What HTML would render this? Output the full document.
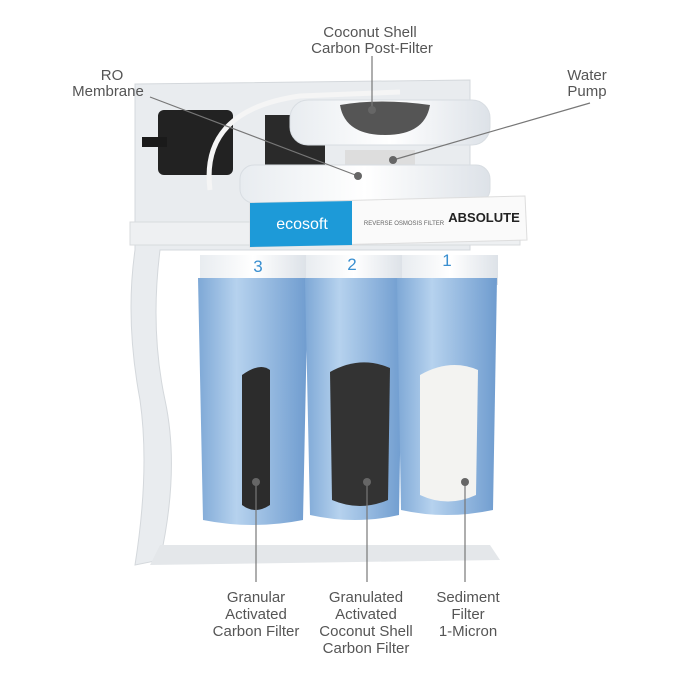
<!DOCTYPE html><html><head><style>body{margin:0;background:#fff}svg{display:block}text{font-family:"Liberation Sans",sans-serif;fill:#555;font-size:15px;text-anchor:middle}</style></head><body>
<svg width="700" height="700" viewBox="0 0 700 700">
<defs>
<linearGradient id="blue" x1="0" x2="1"><stop offset="0" stop-color="#7ea8d6"/><stop offset=".35" stop-color="#b6d2ee"/><stop offset="1" stop-color="#6f9ccf"/></linearGradient>
<linearGradient id="wh" x1="0" x2="1"><stop offset="0" stop-color="#e8ecf0"/><stop offset=".5" stop-color="#fff"/><stop offset="1" stop-color="#dde2e8"/></linearGradient>
</defs>
<!-- back plate -->
<path d="M135 84 L470 80 L470 250 L160 250 Q150 330 165 400 Q180 470 160 560 L135 565 Q150 470 140 400 Q125 320 135 250 Z" fill="#e9ecef" stroke="#d4d8dc"/>
<path d="M130 222 L520 222 L520 245 L130 245 Z" fill="#eef0f2" stroke="#d8dbde"/>
<path d="M160 545 L490 545 L500 560 L150 565 Z" fill="#e4e7ea"/>
<!-- pump black -->
<rect x="158" y="110" width="75" height="65" rx="6" fill="#222"/>
<rect x="142" y="137" width="25" height="10" fill="#1a1a1a"/>
<rect x="265" y="115" width="60" height="55" fill="#2a2a2a"/>
<!-- membrane housing -->
<rect x="290" y="100" width="200" height="45" rx="18" fill="url(#wh)" stroke="#d8dde2"/>
<path d="M340 105 Q380 98 430 105 Q425 135 385 135 Q345 135 340 105Z" fill="#555"/>
<rect x="345" y="150" width="70" height="40" fill="#ddd"/>
<path d="M348 165 L420 165 Q415 190 385 190 Q352 190 348 165Z" fill="#b7a892"/>
<rect x="240" y="165" width="250" height="38" rx="14" fill="url(#wh)" stroke="#d8dde2"/>
<path d="M210 190 Q200 110 300 96 L400 92" fill="none" stroke="#f5f5f5" stroke-width="5"/>
<!-- canisters -->
<g>
<rect x="200" y="255" width="106" height="30" fill="url(#wh)"/>
<path d="M198 278 L308 278 L303 520 Q253 530 203 520 Z" fill="url(#blue)"/>
<rect x="306" y="255" width="96" height="30" fill="url(#wh)"/>
<path d="M305 278 L403 278 L399 515 Q355 525 310 515 Z" fill="url(#blue)"/>
<rect x="402" y="255" width="96" height="30" fill="url(#wh)"/>
<path d="M397 278 L497 278 L493 510 Q446 520 401 510 Z" fill="url(#blue)"/>
<path d="M242 375 Q260 362 270 370 L270 505 Q255 515 242 505 Z" fill="#2c2c2c"/>
<path d="M330 372 Q360 355 390 368 L388 500 Q360 512 332 500 Z" fill="#333"/>
<path d="M420 375 Q450 358 478 370 L476 495 Q448 508 420 495 Z" fill="#f3f3f1"/>
<text x="258" y="272" style="fill:#3a8fd0;font-size:17px">3</text>
<text x="352" y="270" style="fill:#3a8fd0;font-size:17px">2</text>
<text x="447" y="266" style="fill:#3a8fd0;font-size:17px">1</text>
</g>
<!-- label band -->
<path d="M250 203 L525 196 L527 240 L250 247 Z" fill="#fafafa" stroke="#ddd"/>
<path d="M250 203 L352 201 L352 245 L250 247 Z" fill="#1d9ad8"/>
<text x="302" y="229" style="fill:#fff;font-size:16px">ecosoft</text>
<text x="404" y="225" style="font-size:6px;fill:#666">REVERSE OSMOSIS FILTER</text>
<text x="484" y="222" style="font-size:13px;fill:#222;font-weight:bold">ABSOLUTE</text>
<!-- leaders -->
<g stroke="#777" stroke-width="1.2" fill="none">
<line x1="150" y1="97" x2="358" y2="176"/>
<line x1="372" y1="56" x2="372" y2="110"/>
<line x1="590" y1="103" x2="393" y2="160"/>
<line x1="256" y1="482" x2="256" y2="582"/>
<line x1="367" y1="482" x2="367" y2="582"/>
<line x1="465" y1="482" x2="465" y2="582"/>
</g>
<g fill="#666"><circle cx="358" cy="176" r="4"/><circle cx="372" cy="110" r="4"/><circle cx="393" cy="160" r="4"/><circle cx="256" cy="482" r="4"/><circle cx="367" cy="482" r="4"/><circle cx="465" cy="482" r="4"/></g>
<text x="370" y="37">Coconut Shell</text><text x="372" y="53">Carbon Post-Filter</text>
<text x="112" y="80">RO</text><text x="108" y="96">Membrane</text>
<text x="587" y="80">Water</text><text x="587" y="96">Pump</text>
<text x="256" y="602">Granular</text><text x="256" y="619">Activated</text><text x="256" y="636">Carbon Filter</text>
<text x="366" y="602">Granulated</text><text x="366" y="619">Activated</text><text x="366" y="636">Coconut Shell</text><text x="366" y="653">Carbon Filter</text>
<text x="468" y="602">Sediment</text><text x="468" y="619">Filter</text><text x="468" y="636">1-Micron</text>
</svg></body></html>
